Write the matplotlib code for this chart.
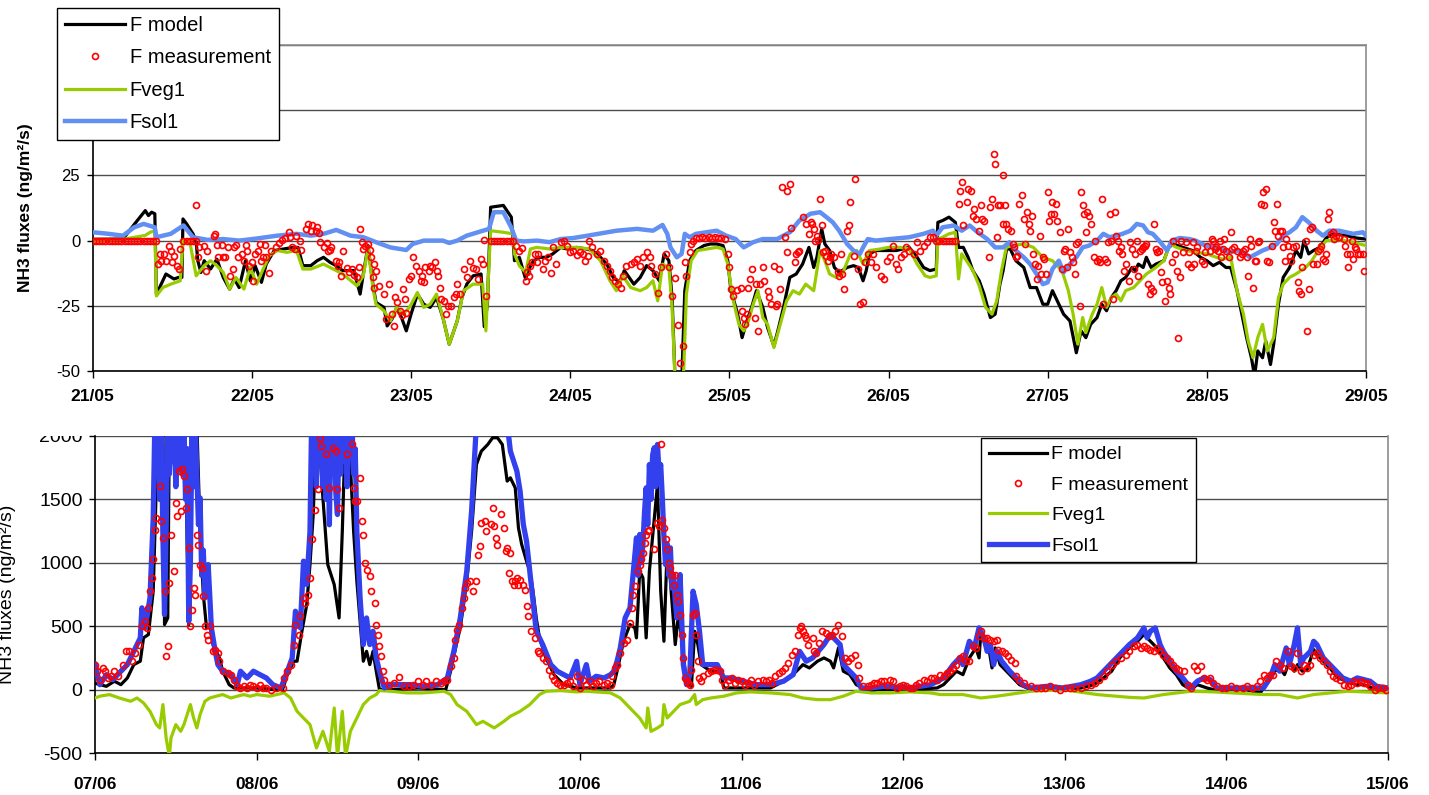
import matplotlib
matplotlib.use('Agg')
import matplotlib.pyplot as plt
from matplotlib.transforms import Bbox, TransformedBbox

plt.rcParams['font.family'] = ['Liberation Sans', 'DejaVu Sans']
plt.rcParams['axes.unicode_minus'] = False

#############################
# data (time in days) #######
#############################

top_days = ['21/05', '22/05', '23/05', '24/05', '25/05', '26/05', '27/05', '28/05', '29/05']
bot_days = ['07/06', '08/06', '09/06', '10/06', '11/06', '12/06', '13/06', '14/06', '15/06']
series_names = ['F model', 'F measurement', 'Fveg1', 'Fsol1']

# 21/05 - 29/05
top_model = [(0.00, 0.5), (0.19, 0.6), (0.23, 3.8), (0.28, 7.7), (0.33, 11.5), (0.35, 9.6), (0.37, 10.9),
             (0.39, 10.3), (0.40, -20.5), (0.42, -18.0), (0.46, -12.8), (0.51, -14.7), (0.54, -14.1),
             (0.56, -14.1), (0.567, 8.3), (0.59, 6.4), (0.63, 2.6), (0.65, -0.6), (0.66, -7.7), (0.68, -12.2),
             (0.70, -7.7), (0.74, -10.9), (0.78, -7.1), (0.82, -14.1), (0.86, -18.6), (0.89, -14.7),
             (0.92, -18.0), (0.96, -7.7), (0.99, -15.4), (1.02, -9.6), (1.06, -16.0), (1.09, -9.0),
             (1.14, -3.8), (1.20, -3.2), (1.26, -2.6), (1.29, -2.6), (1.32, -9.6), (1.37, -9.6), (1.41, -7.7),
             (1.45, -6.4), (1.49, -8.3), (1.53, -9.6), (1.57, -11.5), (1.64, -11.5), (1.68, -20.5),
             (1.70, -12.8), (1.73, -1.9), (1.76, -16.7), (1.78, -23.7), (1.83, -25.6), (1.85, -32.7),
             (1.88, -30.1), (1.91, -25.6), (1.94, -29.5), (1.97, -34.6), (2.00, -28.2), (2.04, -20.5),
             (2.08, -24.4), (2.12, -25.6), (2.16, -21.8), (2.20, -29.5), (2.24, -39.7), (2.29, -30.8),
             (2.32, -21.8), (2.35, -16.7), (2.39, -13.5), (2.44, -12.8), (2.46, -33.0), (2.48, -24.4),
             (2.50, 12.8), (2.58, 13.5), (2.63, 9.0), (2.65, -7.7), (2.68, -6.4), (2.72, -14.7), (2.74, -10.9),
             (2.77, -7.7), (2.81, -6.4), (2.85, -6.4), (2.89, -5.1), (2.94, -2.6), (2.98, -3.2), (3.04, -2.6),
             (3.10, -3.2), (3.14, -3.8), (3.19, -6.4), (3.23, -9.0), (3.27, -14.1), (3.31, -16.0),
             (3.34, -11.5), (3.40, -16.7), (3.44, -14.1), (3.48, -9.6), (3.52, -11.5), (3.56, -15.4),
             (3.59, -5.1), (3.62, -7.7), (3.64, -21.8), (3.66, -55.0), (3.70, -55.0), (3.72, -19.2),
             (3.75, -7.7), (3.79, -3.8), (3.84, -1.9), (3.88, -1.3), (3.92, -1.3), (3.96, -1.9), (3.99, -7.7),
             (4.01, -19.2), (4.05, -27.6), (4.08, -37.2), (4.11, -30.8), (4.14, -25.6), (4.17, -19.2),
             (4.21, -25.6), (4.24, -33.3), (4.28, -40.4), (4.31, -33.3), (4.34, -25.6), (4.38, -14.1),
             (4.42, -12.8), (4.46, -9.0), (4.50, -2.6), (4.53, -10.3), (4.55, -6.4), (4.58, 4.5), (4.60, -1.3),
             (4.63, -3.8), (4.66, -10.3), (4.69, -12.2), (4.74, -10.3), (4.78, -9.6), (4.81, -10.3),
             (4.84, -15.4), (4.86, -11.5), (4.88, -5.1), (4.92, -3.8), (4.99, -3.8), (5.05, -3.8),
             (5.09, -3.2), (5.13, -2.6), (5.18, -6.4), (5.22, -10.3), (5.26, -11.5), (5.30, -10.9),
             (5.31, 7.0), (5.34, 7.7), (5.38, 9.0), (5.42, 7.0), (5.44, -2.6), (5.47, -2.6), (5.50, -6.4),
             (5.53, -11.5), (5.57, -15.4), (5.60, -20.5), (5.64, -29.5), (5.67, -28.2), (5.70, -16.7),
             (5.72, -11.5), (5.74, -3.8), (5.76, -2.6), (5.80, -7.7), (5.85, -10.3), (5.89, -18.0),
             (5.93, -18.0), (5.97, -24.4), (6.00, -24.4), (6.03, -19.2), (6.07, -24.4), (6.10, -28.2),
             (6.14, -30.8), (6.18, -43.0), (6.21, -34.6), (6.24, -37.2), (6.27, -32.1), (6.31, -29.5),
             (6.34, -24.4), (6.37, -26.9), (6.40, -21.8), (6.43, -19.2), (6.46, -15.4), (6.49, -14.1),
             (6.53, -10.3), (6.55, -11.5), (6.57, -9.0), (6.60, -10.3), (6.62, -6.4), (6.65, -10.3),
             (6.68, -9.0), (6.73, -7.7), (6.76, -2.6), (6.79, -1.3), (6.85, -2.6), (6.91, -3.8), (6.96, -6.4),
             (7.00, -7.7), (7.04, -9.6), (7.08, -8.3), (7.12, -10.3), (7.15, -10.3), (7.19, -19.2),
             (7.22, -28.2), (7.25, -37.2), (7.28, -44.9), (7.30, -52.0), (7.32, -42.3), (7.35, -44.9),
             (7.37, -38.5), (7.40, -47.5), (7.42, -39.7), (7.45, -24.4), (7.48, -14.1), (7.52, -10.3),
             (7.56, -3.8), (7.59, -6.4), (7.61, 0.0), (7.64, -5.1), (7.67, -3.8), (7.71, -2.6), (7.75, 1.0),
             (7.79, 2.6), (7.88, 1.9), (7.94, 1.0), (8.00, 0.6)]

top_veg = [(0.00, 0.0), (0.19, 0.5), (0.33, 2.0), (0.36, 3.2), (0.39, 3.8), (0.40, -21.2), (0.44, -18.0),
           (0.49, -16.7), (0.55, -15.4), (0.567, 0.0), (0.61, -0.6), (0.65, -13.5), (0.70, -9.6),
           (0.74, -7.7), (0.78, -9.6), (0.82, -12.2), (0.86, -18.6), (0.90, -14.1), (0.95, -18.6),
           (0.99, -10.3), (1.03, -16.7), (1.07, -11.0), (1.11, -5.8), (1.16, -3.8), (1.22, -4.5),
           (1.28, -3.8), (1.32, -10.9), (1.37, -10.9), (1.45, -9.0), (1.53, -11.5), (1.57, -12.8),
           (1.66, -17.3), (1.70, -13.5), (1.73, -2.6), (1.76, -18.0), (1.78, -24.4), (1.83, -26.9),
           (1.87, -30.8), (1.91, -25.6), (1.95, -28.2), (1.99, -25.6), (2.04, -19.9), (2.08, -25.6),
           (2.12, -24.4), (2.16, -20.5), (2.20, -29.5), (2.24, -39.7), (2.29, -30.8), (2.33, -19.2),
           (2.39, -16.7), (2.45, -16.7), (2.47, -34.6), (2.50, 3.8), (2.58, 3.2), (2.64, 2.6), (2.65, -5.1),
           (2.68, -9.6), (2.72, -12.2), (2.75, -3.2), (2.79, -2.6), (2.87, -3.2), (2.94, -2.6), (3.04, -2.6),
           (3.12, -3.2), (3.19, -7.7), (3.25, -15.4), (3.29, -19.2), (3.33, -13.5), (3.38, -18.0),
           (3.44, -19.2), (3.48, -18.0), (3.52, -15.4), (3.55, -23.1), (3.58, -9.0), (3.62, -10.3),
           (3.64, -25.6), (3.66, -55.0), (3.71, -55.0), (3.73, -20.5), (3.76, -7.7), (3.80, -3.8),
           (3.86, -3.2), (3.92, -2.6), (3.96, -3.2), (3.99, -9.0), (4.02, -21.8), (4.06, -32.1),
           (4.09, -34.6), (4.12, -30.8), (4.15, -24.4), (4.18, -19.2), (4.21, -29.5), (4.24, -32.1),
           (4.28, -41.0), (4.32, -32.1), (4.36, -23.1), (4.40, -19.2), (4.44, -20.5), (4.48, -16.7),
           (4.53, -19.2), (4.57, -3.8), (4.60, -7.7), (4.63, -12.8), (4.67, -14.1), (4.71, -12.8),
           (4.76, -5.1), (4.80, -3.8), (4.84, -9.0), (4.88, -3.8), (4.95, -3.2), (5.00, -2.6), (5.07, -2.6),
           (5.13, -3.2), (5.18, -9.0), (5.23, -13.5), (5.26, -14.1), (5.30, -13.5), (5.31, 0.6), (5.34, 1.3),
           (5.38, 2.6), (5.42, 3.2), (5.44, -14.7), (5.46, -5.1), (5.49, -7.7), (5.53, -11.5), (5.57, -17.3),
           (5.61, -25.6), (5.65, -28.2), (5.68, -23.1), (5.71, -11.5), (5.74, -2.6), (5.78, -1.9),
           (5.85, -1.3), (5.91, -2.6), (5.97, -6.4), (6.03, -7.7), (6.09, -11.5), (6.13, -19.2),
           (6.16, -28.2), (6.19, -39.7), (6.22, -29.5), (6.24, -35.3), (6.28, -28.2), (6.31, -24.4),
           (6.34, -18.0), (6.37, -25.6), (6.40, -21.8), (6.43, -20.5), (6.46, -23.1), (6.49, -19.2),
           (6.54, -18.0), (6.58, -15.4), (6.62, -12.8), (6.68, -10.3), (6.73, -7.7), (6.77, -1.3),
           (6.81, -2.6), (6.87, -3.8), (6.93, -4.5), (7.00, -5.1), (7.06, -6.4), (7.10, -7.1), (7.15, -6.4),
           (7.19, -19.2), (7.23, -28.2), (7.26, -38.5), (7.29, -44.9), (7.32, -37.2), (7.35, -32.1),
           (7.38, -42.3), (7.42, -37.2), (7.45, -21.8), (7.48, -16.7), (7.52, -14.1), (7.56, -12.8),
           (7.62, -10.3), (7.66, -7.7), (7.70, -3.8), (7.75, 0.0), (7.83, 0.3), (7.90, -0.3), (7.96, -1.3),
           (8.00, -1.9)]

top_sol = [(0.00, 3.2), (0.10, 2.6), (0.19, 1.9), (0.26, 5.1), (0.32, 6.4), (0.39, 5.1), (0.40, 1.3),
           (0.49, 2.6), (0.57, 5.8), (0.63, 1.3), (0.72, 0.3), (0.82, 0.6), (0.92, 0.0), (1.03, 0.8),
           (1.16, 1.9), (1.28, 2.6), (1.37, 1.9), (1.45, 2.6), (1.53, 4.1), (1.62, 1.9), (1.70, 1.3),
           (1.78, -0.6), (1.87, -2.6), (1.97, -3.6), (2.01, -1.3), (2.08, 0.0), (2.20, 0.0), (2.24, -0.9),
           (2.29, 0.0), (2.35, 1.9), (2.42, 3.2), (2.49, 4.5), (2.52, 10.9), (2.58, 10.9), (2.63, 5.0),
           (2.66, 0.0), (2.71, -0.3), (2.79, 0.0), (2.87, -0.6), (2.94, 0.6), (3.02, 1.0), (3.11, 1.9),
           (3.29, 3.8), (3.42, 4.5), (3.52, 3.8), (3.58, 6.0), (3.61, 2.6), (3.63, -2.6), (3.67, -6.4),
           (3.70, -5.1), (3.72, 2.6), (3.75, 1.3), (3.79, 2.6), (3.92, 3.8), (3.98, 1.9), (4.04, 0.6),
           (4.09, -2.6), (4.15, -0.6), (4.21, 0.6), (4.30, 0.6), (4.38, 3.2), (4.44, 7.7), (4.51, 10.3),
           (4.57, 10.9), (4.61, 9.0), (4.65, 7.0), (4.69, 3.8), (4.74, -1.3), (4.78, -3.8), (4.82, -5.1),
           (4.84, -2.6), (4.87, 0.6), (4.92, 0.0), (5.01, 0.6), (5.13, 1.3), (5.22, 2.6), (5.28, 3.8),
           (5.30, 1.9), (5.34, 5.1), (5.41, 5.8), (5.46, 3.8), (5.51, 5.8), (5.56, 3.2), (5.62, 0.6),
           (5.67, -2.6), (5.72, -2.6), (5.76, -0.6), (5.80, -3.8), (5.85, -6.4), (5.89, -9.0), (5.93, -12.8),
           (5.97, -16.7), (6.00, -16.0), (6.03, -10.9), (6.07, -7.7), (6.10, -12.2), (6.14, -9.0),
           (6.18, -6.4), (6.22, -2.6), (6.26, -1.9), (6.31, 0.0), (6.35, 2.6), (6.39, 1.3), (6.43, 1.9),
           (6.47, 2.6), (6.52, 3.8), (6.56, 6.4), (6.60, 5.8), (6.63, 3.2), (6.66, 2.6), (6.70, 0.0),
           (6.75, -3.8), (6.78, 0.0), (6.83, 1.0), (6.89, 0.6), (6.93, 0.0), (6.99, -1.9), (7.06, -2.6),
           (7.10, -3.2), (7.14, -4.5), (7.19, -3.8), (7.23, -4.5), (7.27, -6.4), (7.31, -5.1), (7.35, -3.8),
           (7.40, -2.6), (7.44, -1.3), (7.48, 1.9), (7.52, 3.2), (7.56, 5.1), (7.60, 9.0), (7.64, 7.0),
           (7.69, 3.8), (7.73, 1.9), (7.77, 3.8), (7.83, 3.8), (7.92, 2.6), (7.98, 3.2), (8.00, 1.9)]

top_meas = [(0.00, 0), (0.02, 0), (0.04, 0), (0.06, 0), (0.08, 0), (0.10, 0), (0.12, 0), (0.14, 0), (0.16, 0),
            (0.18, 0), (0.20, 0), (0.22, 0), (0.24, 0), (0.26, 0), (0.28, 0), (0.30, 0), (0.32, 0), (0.34, 0),
            (0.36, 0), (0.38, 0), (0.40, 0), (0.41, -9.0), (0.42, -5.1), (0.43, -7.7), (0.45, -5.1),
            (0.46, -7.7), (0.48, -1.9), (0.49, -3.8), (0.50, -8.3), (0.51, -5.8), (0.53, -9.6), (0.54, -10.9),
            (0.55, -3.2), (0.57, 0), (0.59, 0), (0.61, 0), (0.63, 0), (0.65, 0), (0.65, 13.8), (0.66, -6.4),
            (0.67, -2.6), (0.70, -1.9), (0.71, -11.8), (0.72, -3.8), (0.76, 1.9), (0.77, 2.6), (0.78, -1.6),
            (0.79, -6.2), (0.81, -1.6), (0.82, -6.2), (0.83, -6.4), (0.85, -2.6), (0.86, -13.5), (0.88, -10.9),
            (0.89, -2.6), (0.90, -1.6), (0.91, -6.2), (0.94, -5.1), (0.95, -7.7), (0.96, -1.6), (0.97, -3.8),
            (0.98, -9.6), (1.00, -8.3), (1.01, -15.4), (1.02, -5.1), (1.04, -3.8), (1.05, -1.3), (1.06, -7.7),
            (1.07, -6.2), (1.08, -1.6), (1.09, -6.4), (1.11, -12.6), (1.12, -3.8), (1.15, -2.6), (1.17, -1.0),
            (1.19, 0.2), (1.21, 1.0), (1.23, 3.2), (1.24, 1.5), (1.25, -2.6), (1.27, -3.2), (1.28, 1.9),
            (1.30, 0.0), (1.31, -3.6), (1.34, 4.5), (1.35, 6.4), (1.37, 3.8), (1.38, 5.8), (1.40, 3.8),
            (1.41, 5.1), (1.42, 2.8), (1.43, -0.6), (1.45, -2.6), (1.47, -1.0), (1.48, -4.1), (1.49, -3.6),
            (1.50, -2.6), (1.53, -7.7), (1.54, -9.6), (1.55, -8.3), (1.56, -13.5), (1.57, -3.8), (1.60, -10.5),
            (1.61, -12.2), (1.63, -10.9), (1.64, -13.1), (1.66, -14.1), (1.67, -10.3), (1.68, 4.5),
            (1.69, -0.6), (1.70, -3.2), (1.71, -1.9), (1.73, -1.3), (1.74, -3.6), (1.75, -6.4), (1.76, -14.1),
            (1.77, -9.0), (1.77, -18.0), (1.78, -11.5), (1.80, -17.3), (1.83, -20.5), (1.84, -30.1),
            (1.86, -16.7), (1.88, -28.2), (1.89, -32.7), (1.90, -21.8), (1.91, -23.7), (1.93, -26.9),
            (1.94, -28.5), (1.95, -18.6), (1.96, -22.4), (1.97, -27.6), (1.99, -14.7), (2.00, -13.5),
            (2.01, -6.4), (2.03, -9.6), (2.05, -11.5), (2.06, -15.4), (2.07, -13.5), (2.08, -16.0),
            (2.09, -10.3), (2.11, -11.5), (2.12, -9.6), (2.13, -10.3), (2.15, -8.3), (2.16, -11.5),
            (2.17, -13.5), (2.18, -18.0), (2.19, -22.4), (2.21, -23.1), (2.22, -28.2), (2.23, -25.0),
            (2.25, -25.0), (2.27, -21.8), (2.28, -20.5), (2.29, -16.7), (2.31, -20.5), (2.33, -10.9),
            (2.35, -14.1), (2.37, -7.7), (2.39, -10.5), (2.41, -10.9), (2.42, -14.7), (2.44, -7.1),
            (2.45, -9.0), (2.46, 0.2), (2.47, -21.2), (2.50, 0), (2.52, 0), (2.54, 0), (2.56, 0), (2.58, 0),
            (2.60, 0), (2.62, 0), (2.64, 0), (2.66, -1.9), (2.68, -3.8), (2.70, -2.8), (2.72, -15.4),
            (2.73, -12.2), (2.74, -13.5), (2.75, -9.6), (2.76, -8.3), (2.78, -5.1), (2.79, -8.3), (2.80, -5.1),
            (2.83, -10.9), (2.84, -7.7), (2.86, -6.4), (2.88, -12.6), (2.89, -2.6), (2.91, -9.0), (2.94, -0.6),
            (2.96, 0.0), (2.98, -1.9), (3.00, -4.5), (3.02, -3.8), (3.04, -5.4), (3.06, -4.5), (3.08, -5.1),
            (3.09, -7.7), (3.11, -5.8), (3.12, 0.0), (3.14, -2.6), (3.17, -5.1), (3.19, -3.8), (3.21, -7.7),
            (3.23, -9.6), (3.25, -11.5), (3.26, -14.1), (3.28, -15.4), (3.30, -16.7), (3.32, -18.0),
            (3.33, -13.5), (3.35, -9.6), (3.38, -9.0), (3.40, -8.3), (3.42, -7.1), (3.44, -9.6), (3.46, -6.4),
            (3.48, -4.5), (3.50, -6.4), (3.51, -9.6), (3.53, -12.8), (3.55, -19.9), (3.57, -10.3),
            (3.60, -5.1), (3.62, -10.3), (3.64, -21.2), (3.66, -14.4), (3.68, -32.3), (3.69, -46.8),
            (3.71, -40.4), (3.72, -8.3), (3.73, -13.5), (3.75, -4.5), (3.76, -1.3), (3.77, 0.0), (3.79, 1.0),
            (3.81, 1.0), (3.83, 1.2), (3.85, 1.0), (3.87, 1.2), (3.89, 1.0), (3.91, 1.2), (3.93, 1.0),
            (3.95, 1.0), (3.97, 0.6), (3.99, -5.1), (4.00, -10.0), (4.01, -18.6), (4.02, -21.2), (4.05, -19.0),
            (4.07, -18.0), (4.08, -26.9), (4.09, -29.5), (4.10, -32.1), (4.11, -28.2), (4.12, -18.0),
            (4.13, -14.7), (4.14, -10.9), (4.16, -29.5), (4.17, -16.7), (4.18, -34.6), (4.19, -16.7),
            (4.21, -10.3), (4.22, -15.4), (4.24, -19.2), (4.25, -21.8), (4.26, -24.4), (4.28, -9.6),
            (4.29, -25.0), (4.30, -24.4), (4.31, -10.9), (4.32, -18.6), (4.33, 20.5), (4.35, 1.3),
            (4.36, 19.2), (4.36, -4.5), (4.38, 21.8), (4.39, 4.7), (4.41, -8.3), (4.42, -5.1), (4.43, -4.5),
            (4.44, -3.8), (4.46, 9.0), (4.48, 6.4), (4.50, 2.6), (4.51, 7.0), (4.52, 6.4), (4.53, 4.5),
            (4.54, 0.0), (4.55, 1.9), (4.56, 0.2), (4.57, 16.0), (4.58, 5.8), (4.59, -4.5), (4.60, -3.8),
            (4.61, -5.8), (4.62, -7.7), (4.63, -6.4), (4.64, -5.1), (4.66, -6.4), (4.68, -12.2), (4.69, -13.5),
            (4.70, -5.1), (4.71, -12.8), (4.72, -18.6), (4.74, 3.8), (4.75, 5.8), (4.76, 14.7), (4.78, -5.8),
            (4.79, 23.7), (4.81, -10.9), (4.82, -24.4), (4.84, -23.7), (4.85, -8.3), (4.87, -5.1),
            (4.89, -8.3), (4.90, -5.1), (4.92, -10.3), (4.95, -13.5), (4.97, -14.7), (4.99, -7.7),
            (5.01, -6.4), (5.03, -1.9), (5.05, -9.0), (5.06, -10.9), (5.08, -6.4), (5.10, -5.1), (5.11, -2.6),
            (5.13, -3.8), (5.16, -5.1), (5.18, -0.6), (5.20, -3.8), (5.22, -1.9), (5.24, -0.6), (5.26, 1.5),
            (5.28, 1.5), (5.30, 0), (5.32, 0), (5.34, 0), (5.36, 0), (5.38, 0), (5.40, 0), (5.42, 0),
            (5.44, 14.1), (5.45, 19.2), (5.46, 22.4), (5.47, 5.8), (5.49, 14.7), (5.50, 19.9), (5.52, 19.2),
            (5.53, 9.6), (5.54, 12.2), (5.55, 8.3), (5.57, 3.8), (5.58, 13.5), (5.59, 8.3), (5.60, 7.7),
            (5.63, -6.4), (5.64, 12.8), (5.65, 16.0), (5.66, 33.3), (5.67, 29.2), (5.68, 1.3), (5.69, 13.5),
            (5.70, 13.5), (5.72, 25.0), (5.72, 6.4), (5.73, 13.8), (5.74, 6.4), (5.75, 4.5), (5.77, 3.8),
            (5.78, -1.3), (5.79, -2.6), (5.80, -6.4), (5.81, -5.8), (5.82, 14.1), (5.84, 17.3), (5.85, 8.3),
            (5.86, -1.3), (5.87, 10.9), (5.88, 6.4), (5.89, 3.8), (5.90, 9.6), (5.91, -5.1), (5.92, -9.0),
            (5.93, -14.7), (5.94, -9.6), (5.95, 1.9), (5.96, -12.8), (5.97, -6.4), (5.98, -7.1), (5.99, -12.8),
            (6.00, 18.6), (6.01, 7.7), (6.02, 10.3), (6.03, 14.7), (6.04, 10.3), (6.05, 14.1), (6.06, 7.7),
            (6.08, 3.2), (6.09, -10.9), (6.10, -3.8), (6.11, -3.2), (6.12, -10.3), (6.13, 4.5), (6.14, -4.5),
            (6.15, -6.4), (6.16, -8.3), (6.17, -12.8), (6.18, -1.3), (6.19, -0.6), (6.20, -25.0), (6.21, 18.6),
            (6.22, 13.5), (6.23, 10.3), (6.24, 3.2), (6.25, 10.9), (6.26, 9.6), (6.27, 6.4), (6.29, -6.4),
            (6.30, 0.0), (6.31, -7.7), (6.32, -7.1), (6.33, -8.3), (6.34, 16.0), (6.35, -24.4), (6.36, -7.1),
            (6.37, -8.3), (6.38, -0.6), (6.39, 10.3), (6.40, 0.0), (6.41, -22.4), (6.42, 10.9), (6.43, 1.9),
            (6.44, 0.0), (6.45, -3.8), (6.46, -2.6), (6.47, -5.1), (6.48, -11.5), (6.49, -9.0), (6.51, -15.4),
            (6.52, -0.6), (6.53, -3.2), (6.54, -10.9), (6.55, -5.1), (6.56, 0.0), (6.57, -13.5), (6.58, -3.8),
            (6.59, -3.2), (6.60, -2.6), (6.61, -1.9), (6.62, -1.3), (6.63, -16.7), (6.64, -20.5), (6.65, -18.0),
            (6.66, -19.2), (6.67, 6.4), (6.68, -3.2), (6.69, -4.5), (6.70, -3.8), (6.71, -12.2), (6.72, -16.0),
            (6.74, -23.1), (6.75, -15.4), (6.76, -18.0), (6.77, -20.5), (6.78, -8.3), (6.79, 0.0), (6.80, -5.1),
            (6.81, -11.5), (6.82, -37.2), (6.83, -14.1), (6.84, 0.0), (6.85, -4.5), (6.87, -0.6), (6.88, -9.0),
            (6.89, -4.5), (6.90, -10.3), (6.91, -0.6), (6.92, -9.0), (6.93, -3.8), (6.94, -2.6), (6.97, -7.7),
            (6.98, -9.0), (6.99, -4.5), (7.00, -1.9), (7.02, -3.8), (7.03, 0.6), (7.04, 0.0), (7.05, -3.2),
            (7.06, -2.6), (7.07, -3.8), (7.08, 0.0), (7.09, -6.4), (7.10, -3.2), (7.11, 0.6), (7.12, -3.8),
            (7.14, -6.4), (7.15, 3.2), (7.16, -3.2), (7.17, -2.6), (7.19, -3.8), (7.21, -6.4), (7.22, -5.1),
            (7.23, -3.8), (7.24, -3.2), (7.25, -6.4), (7.26, -13.5), (7.27, 0.6), (7.28, -1.9), (7.29, -18.0),
            (7.30, -7.7), (7.31, -7.7), (7.32, -0.6), (7.33, 0.0), (7.34, 14.1), (7.35, 18.6), (7.36, 13.5),
            (7.37, 19.9), (7.38, -7.7), (7.39, -8.3), (7.41, -1.9), (7.42, 7.0), (7.43, 3.8), (7.44, 14.1),
            (7.45, 1.9), (7.46, 3.8), (7.47, 3.8), (7.48, -2.6), (7.49, -7.7), (7.50, 0.6), (7.51, -1.9),
            (7.52, -5.8), (7.53, -7.7), (7.54, -2.6), (7.56, -1.9), (7.57, -16.0), (7.58, -19.2), (7.59, -20.5),
            (7.60, -10.3), (7.62, 0.0), (7.63, -34.6), (7.64, -18.6), (7.65, 4.5), (7.66, 5.1), (7.67, -9.0),
            (7.69, -9.0), (7.70, -3.8), (7.71, -3.2), (7.72, -1.9), (7.73, -7.1), (7.74, -7.7), (7.75, -5.1),
            (7.76, 8.3), (7.77, 10.9), (7.78, 2.6), (7.79, 3.2), (7.80, 0.6), (7.81, 1.9), (7.83, 1.3),
            (7.86, 0.6), (7.87, -1.9), (7.88, -5.1), (7.89, -10.3), (7.90, -5.1), (7.91, 0.0), (7.92, -7.1),
            (7.93, -2.6), (7.94, -3.2), (7.95, -5.1), (7.96, -5.1), (7.98, -5.1), (7.99, -11.5)]

# 07/06 - 15/06
bot_model = [(0.00, 50), (0.07, 26), (0.12, 66), (0.16, 39), (0.20, 92), (0.24, 197), (0.28, 224), (0.30, 408),
             (0.33, 434), (0.36, 776), (0.38, 1644), (0.40, 2100), (0.42, 2100), (0.43, 513), (0.45, 565),
             (0.46, 2100), (0.49, 1775), (0.51, 1696), (0.53, 1933), (0.55, 2100), (0.56, 1828), (0.58, 513),
             (0.60, 1775), (0.63, 2100), (0.65, 1249), (0.67, 750), (0.69, 487), (0.71, 513), (0.73, 355),
             (0.77, 250), (0.79, 145), (0.83, 39), (0.86, 13), (1.00, 13), (1.12, 0), (1.16, 0), (1.19, 118),
             (1.23, 224), (1.25, 224), (1.28, 460), (1.31, 671), (1.33, 986), (1.35, 1381), (1.37, 2100),
             (1.39, 1907), (1.41, 1512), (1.44, 986), (1.48, 828), (1.51, 565), (1.53, 1249), (1.55, 2100),
             (1.58, 1775), (1.60, 1249), (1.62, 855), (1.64, 539), (1.66, 224), (1.68, 302), (1.70, 197),
             (1.72, 302), (1.74, 145), (1.76, 0), (1.83, 0), (2.00, 13), (2.17, 0), (2.20, 145), (2.24, 381),
             (2.26, 487), (2.30, 855), (2.33, 1249), (2.36, 1775), (2.39, 1880), (2.43, 1933), (2.46, 1986),
             (2.49, 1986), (2.52, 1933), (2.55, 1644), (2.57, 1670), (2.60, 1591), (2.62, 1275), (2.64, 1144),
             (2.67, 1013), (2.69, 934), (2.71, 776), (2.73, 565), (2.75, 408), (2.79, 250), (2.84, 118),
             (2.90, 39), (2.98, 13), (3.08, 13), (3.19, 13), (3.21, 39), (3.23, 145), (3.27, 381), (3.31, 513),
             (3.34, 487), (3.35, 408), (3.37, 934), (3.39, 881), (3.41, 408), (3.43, 934), (3.48, 1617),
             (3.50, 776), (3.52, 381), (3.54, 1118), (3.56, 855), (3.59, 355), (3.61, 592), (3.63, 408),
             (3.66, 39), (3.69, 26), (3.71, 460), (3.73, 355), (3.75, 197), (3.81, 145), (3.87, 145), (3.89, 13),
             (4.01, 13), (4.18, 13), (4.26, 66), (4.34, 145), (4.38, 197), (4.42, 171), (4.47, 224), (4.51, 250),
             (4.55, 224), (4.57, 171), (4.60, 329), (4.63, 145), (4.67, 118), (4.71, 39), (4.75, 13), (4.80, -13),
             (4.84, 0), (5.04, 0), (5.21, 13), (5.25, 39), (5.29, 92), (5.33, 145), (5.37, 118), (5.41, 250),
             (5.45, 329), (5.47, 250), (5.48, 434), (5.50, 381), (5.53, 329), (5.55, 171), (5.57, 329),
             (5.60, 197), (5.64, 145), (5.68, 92), (5.72, 39), (5.79, 0), (5.99, 0), (6.10, 13), (6.18, 39),
             (6.24, 92), (6.29, 145), (6.34, 250), (6.40, 329), (6.45, 381), (6.49, 434), (6.53, 381),
             (6.57, 329), (6.61, 250), (6.65, 171), (6.69, 118), (6.73, 39), (6.78, 0), (6.82, 39), (6.88, 13),
             (6.92, 0), (7.12, 0), (7.21, -26), (7.23, 13), (7.27, 79), (7.30, 145), (7.33, 171), (7.36, 118),
             (7.39, 224), (7.42, 145), (7.44, 197), (7.47, 145), (7.50, 158), (7.54, 316), (7.57, 263),
             (7.60, 224), (7.64, 171), (7.69, 92), (7.75, 66), (7.80, 39), (7.85, 39), (7.90, 13), (8.00, 13)]

bot_veg = [(0.00, -66), (0.03, -52), (0.09, -39), (0.15, -66), (0.22, -92), (0.26, -66), (0.30, -105),
           (0.34, -171), (0.38, -276), (0.40, -302), (0.42, -118), (0.44, -381), (0.46, -530), (0.47, -381),
           (0.50, -276), (0.53, -329), (0.55, -276), (0.59, -118), (0.61, -224), (0.63, -302), (0.65, -197),
           (0.68, -92), (0.71, -66), (0.75, -52), (0.79, -39), (0.84, -66), (0.88, -52), (0.92, -39),
           (0.96, -52), (1.00, -39), (1.08, -52), (1.17, -26), (1.21, -66), (1.25, -171), (1.29, -224),
           (1.33, -276), (1.37, -460), (1.41, -329), (1.45, -487), (1.48, -145), (1.50, -530), (1.53, -171),
           (1.55, -530), (1.58, -329), (1.62, -224), (1.66, -118), (1.70, -66), (1.74, -39), (1.76, -8),
           (1.83, -13), (1.93, -26), (2.03, -26), (2.16, -13), (2.20, -39), (2.24, -118), (2.30, -171),
           (2.36, -276), (2.40, -250), (2.47, -302), (2.53, -250), (2.57, -210), (2.63, -171), (2.69, -118),
           (2.75, -39), (2.79, -13), (2.88, -8), (2.98, -18), (3.04, -13), (3.19, -26), (3.25, -66),
           (3.31, -145), (3.37, -224), (3.41, -302), (3.42, -145), (3.44, -329), (3.48, -302), (3.51, -276),
           (3.52, -118), (3.54, -224), (3.58, -171), (3.62, -118), (3.68, -92), (3.71, -39), (3.72, -118),
           (3.76, -79), (3.81, -66), (3.89, -52), (3.97, -26), (4.05, -18), (4.18, -26), (4.30, -39),
           (4.38, -66), (4.47, -79), (4.55, -79), (4.63, -52), (4.71, -13), (4.80, -26), (4.92, -26),
           (5.04, -18), (5.17, -26), (5.23, -39), (5.31, -39), (5.37, -39), (5.48, -66), (5.58, -52),
           (5.79, -13), (5.99, 0), (6.20, -39), (6.40, -61), (6.49, -66), (6.61, -39), (6.78, -13),
           (6.92, -18), (7.23, -39), (7.33, -39), (7.44, -66), (7.54, -39), (7.75, -13), (8.00, -26)]

bot_sol = [(0.00, 197), (0.01, 145), (0.03, 39), (0.07, 118), (0.11, 79), (0.16, 145), (0.20, 197),
           (0.24, 302), (0.28, 408), (0.29, 645), (0.31, 487), (0.34, 723), (0.36, 1354), (0.37, 2100),
           (0.38, 1700), (0.39, 2100), (0.40, 1500), (0.41, 2100), (0.42, 1200), (0.43, 592), (0.44, 1249),
           (0.45, 2100), (0.46, 1700), (0.47, 2100), (0.48, 1800), (0.49, 2100), (0.50, 1600), (0.51, 2100),
           (0.52, 1750), (0.53, 2100), (0.54, 1700), (0.55, 2100), (0.56, 1500), (0.57, 1900), (0.58, 539),
           (0.59, 1000), (0.60, 2100), (0.61, 1600), (0.62, 2100), (0.63, 1700), (0.64, 1300), (0.65, 1512),
           (0.66, 900), (0.67, 1100), (0.68, 723), (0.70, 986), (0.72, 487), (0.74, 329), (0.76, 197),
           (0.79, 145), (0.84, 118), (0.88, 39), (0.90, 145), (0.94, 92), (0.98, 145), (1.02, 118), (1.06, 92),
           (1.10, 39), (1.15, 13), (1.19, 145), (1.22, 250), (1.24, 618), (1.27, 487), (1.29, 1013),
           (1.31, 828), (1.33, 1249), (1.34, 2100), (1.35, 1700), (1.36, 2100), (1.37, 1600), (1.38, 2100),
           (1.39, 1900), (1.40, 2100), (1.41, 1600), (1.42, 2100), (1.43, 1500), (1.44, 2100), (1.45, 1300),
           (1.46, 2100), (1.47, 1700), (1.48, 2100), (1.49, 1550), (1.50, 1381), (1.51, 2100), (1.52, 1700),
           (1.53, 2100), (1.54, 1800), (1.55, 2100), (1.56, 1600), (1.57, 2100), (1.58, 1900), (1.59, 2100),
           (1.60, 1700), (1.61, 1900), (1.62, 1249), (1.64, 723), (1.66, 355), (1.68, 565), (1.70, 355),
           (1.72, 460), (1.74, 250), (1.76, 145), (1.79, 13), (1.83, 39), (1.95, 39), (2.03, 26), (2.12, 39),
           (2.18, 92), (2.22, 302), (2.26, 565), (2.30, 934), (2.33, 1407), (2.36, 2100), (2.55, 2100),
           (2.57, 1880), (2.61, 1723), (2.63, 1565), (2.65, 1302), (2.67, 1170), (2.69, 934), (2.73, 460),
           (2.77, 355), (2.82, 197), (2.86, 145), (2.90, 118), (2.94, 92), (2.98, 223), (3.00, 39), (3.04, 197),
           (3.06, 66), (3.10, 105), (3.15, 92), (3.19, 118), (3.21, 145), (3.23, 224), (3.25, 329), (3.28, 565),
           (3.31, 645), (3.35, 1197), (3.36, 900), (3.37, 1223), (3.38, 1000), (3.39, 1144), (3.40, 1400),
           (3.41, 1591), (3.42, 1300), (3.43, 1775), (3.44, 1500), (3.45, 1850), (3.46, 1907), (3.47, 1600),
           (3.48, 1933), (3.49, 1700), (3.50, 1775), (3.51, 1512), (3.52, 1200), (3.53, 986), (3.54, 1150),
           (3.55, 900), (3.56, 1118), (3.57, 800), (3.58, 907), (3.59, 700), (3.60, 565), (3.61, 750),
           (3.62, 907), (3.64, 197), (3.66, 39), (3.68, 118), (3.70, 776), (3.72, 671), (3.74, 460),
           (3.76, 197), (3.80, 197), (3.85, 197), (3.89, 92), (3.93, 92), (4.01, 66), (4.09, 39), (4.18, 39),
           (4.26, 66), (4.32, 118), (4.36, 302), (4.40, 224), (4.44, 250), (4.51, 355), (4.55, 434),
           (4.59, 381), (4.61, 355), (4.63, 197), (4.67, 145), (4.71, 92), (4.74, 13), (4.80, 13), (4.88, 26),
           (5.04, 13), (5.17, 39), (5.25, 92), (5.31, 197), (5.35, 250), (5.37, 197), (5.41, 381), (5.44, 329),
           (5.47, 487), (5.50, 408), (5.52, 302), (5.54, 355), (5.56, 197), (5.58, 302), (5.61, 224),
           (5.66, 145), (5.70, 92), (5.74, 39), (5.79, 13), (5.89, 26), (5.99, 13), (6.10, 39), (6.16, 66),
           (6.20, 92), (6.24, 145), (6.28, 197), (6.32, 250), (6.36, 302), (6.40, 355), (6.45, 408),
           (6.49, 487), (6.51, 408), (6.53, 460), (6.56, 487), (6.59, 355), (6.61, 302), (6.65, 224),
           (6.69, 145), (6.73, 92), (6.78, 13), (6.82, 66), (6.86, 92), (6.90, 79), (6.94, 13), (7.23, 13),
           (7.27, 92), (7.30, 197), (7.33, 145), (7.37, 329), (7.39, 197), (7.42, 355), (7.44, 487),
           (7.46, 197), (7.48, 250), (7.52, 302), (7.54, 381), (7.56, 355), (7.60, 250), (7.64, 197),
           (7.68, 145), (7.72, 92), (7.77, 66), (7.81, 92), (7.85, 79), (7.89, 66), (7.93, 26), (8.00, 13)]

bot_meas = [(0.00, 197), (0.01, 145), (0.03, 79), (0.05, 171), (0.06, 145), (0.08, 92), (0.10, 105),
            (0.12, 145), (0.14, 105), (0.17, 197), (0.19, 302), (0.21, 302), (0.23, 224), (0.25, 289),
            (0.27, 355), (0.29, 500), (0.31, 539), (0.32, 487), (0.33, 645), (0.34, 776), (0.35, 881),
            (0.36, 1026), (0.37, 1262), (0.38, 1354), (0.40, 1604), (0.41, 1328), (0.42, 1197), (0.43, 776),
            (0.44, 263), (0.45, 342), (0.46, 842), (0.47, 1223), (0.49, 934), (0.50, 1473), (0.51, 1368),
            (0.52, 1723), (0.53, 1407), (0.54, 1736), (0.55, 1683), (0.56, 1433), (0.57, 1578), (0.58, 1118),
            (0.59, 500), (0.60, 631), (0.61, 802), (0.62, 750), (0.63, 1223), (0.64, 1144), (0.65, 986),
            (0.66, 960), (0.67, 736), (0.68, 500), (0.69, 434), (0.70, 395), (0.71, 500), (0.73, 302),
            (0.74, 316), (0.76, 289), (0.77, 224), (0.79, 145), (0.82, 132), (0.84, 118), (0.86, 79), (0.88, 26),
            (0.90, 13), (0.92, 26), (0.94, 13), (0.96, 39), (0.98, 26), (1.00, 13), (1.02, 39), (1.04, 13),
            (1.06, 13), (1.09, 0), (1.12, 13), (1.16, 13), (1.17, 92), (1.19, 145), (1.21, 197), (1.23, 355),
            (1.24, 513), (1.26, 434), (1.27, 579), (1.29, 723), (1.30, 684), (1.32, 750), (1.33, 881),
            (1.34, 1184), (1.36, 1420), (1.38, 1578), (1.39, 1986), (1.40, 1920), (1.43, 1854), (1.45, 1591),
            (1.47, 1907), (1.49, 1880), (1.50, 1578), (1.51, 1433), (1.56, 1854), (1.59, 1933), (1.60, 1591),
            (1.61, 1486), (1.62, 1486), (1.64, 1670), (1.65, 1328), (1.66, 1223), (1.67, 999), (1.68, 947),
            (1.70, 894), (1.71, 776), (1.73, 684), (1.74, 513), (1.75, 434), (1.76, 342), (1.77, 263),
            (1.78, 145), (1.79, 79), (1.82, 39), (1.85, 53), (1.88, 100), (1.91, 26), (1.94, 26), (1.97, 39),
            (2.00, 66), (2.03, 39), (2.05, 66), (2.08, 39), (2.11, 66), (2.14, 53), (2.16, 66), (2.18, 79),
            (2.20, 184), (2.22, 250), (2.23, 395), (2.24, 473), (2.25, 513), (2.27, 645), (2.28, 723),
            (2.29, 802), (2.30, 842), (2.32, 855), (2.34, 776), (2.36, 855), (2.37, 1065), (2.38, 1131),
            (2.39, 1315), (2.41, 1328), (2.42, 1249), (2.45, 1302), (2.46, 1433), (2.47, 1289), (2.48, 1197),
            (2.49, 1144), (2.51, 1381), (2.53, 1276), (2.54, 1091), (2.55, 1118), (2.56, 920), (2.58, 855),
            (2.59, 828), (2.61, 881), (2.57, 1078), (2.60, 855), (2.62, 828), (2.63, 868), (2.65, 828),
            (2.66, 789), (2.67, 658), (2.68, 579), (2.70, 460), (2.72, 408), (2.74, 302), (2.75, 289),
            (2.77, 250), (2.79, 224), (2.81, 158), (2.83, 105), (2.84, 79), (2.86, 53), (2.88, 39), (2.90, 39),
            (2.92, 53), (2.94, 71), (2.96, 26), (2.98, 105), (3.00, 13), (3.02, 79), (3.04, 39), (3.06, 66),
            (3.08, 26), (3.10, 53), (3.12, 71), (3.15, 39), (3.17, 53), (3.19, 39), (3.20, 105), (3.22, 171),
            (3.23, 197), (3.25, 289), (3.27, 368), (3.29, 395), (3.31, 526), (3.32, 645), (3.33, 750),
            (3.34, 815), (3.36, 934), (3.37, 986), (3.38, 1026), (3.39, 1078), (3.40, 1157), (3.41, 1223),
            (3.42, 1249), (3.43, 1262), (3.46, 1105), (3.48, 1315), (3.49, 1289), (3.50, 1933), (3.51, 1341),
            (3.52, 1276), (3.53, 1184), (3.54, 1105), (3.55, 999), (3.56, 960), (3.57, 907), (3.58, 828),
            (3.59, 907), (3.60, 750), (3.61, 697), (3.62, 592), (3.63, 434), (3.64, 250), (3.65, 92), (3.66, 66),
            (3.67, 53), (3.68, 39), (3.69, 158), (3.70, 592), (3.71, 605), (3.72, 434), (3.73, 224), (3.74, 92),
            (3.75, 66), (3.76, 105), (3.79, 132), (3.81, 145), (3.83, 158), (3.85, 158), (3.87, 145), (3.88, 79),
            (3.90, 39), (3.92, 79), (3.94, 92), (3.96, 53), (3.98, 79), (4.00, 66), (4.02, 39), (4.04, 53),
            (4.06, 79), (4.08, 39), (4.10, 66), (4.13, 79), (4.15, 66), (4.17, 79), (4.19, 53), (4.21, 105),
            (4.23, 132), (4.25, 145), (4.27, 171), (4.29, 210), (4.31, 276), (4.33, 302), (4.35, 434),
            (4.36, 487), (4.37, 500), (4.38, 460), (4.39, 434), (4.40, 408), (4.41, 355), (4.44, 408),
            (4.45, 302), (4.46, 289), (4.48, 368), (4.50, 460), (4.52, 447), (4.54, 421), (4.56, 434),
            (4.58, 460), (4.60, 513), (4.62, 421), (4.64, 250), (4.66, 224), (4.68, 250), (4.70, 276),
            (4.72, 197), (4.73, 92), (4.75, 26), (4.78, 26), (4.80, 39), (4.82, 53), (4.84, 53), (4.86, 66),
            (4.88, 71), (4.90, 39), (4.92, 79), (4.94, 66), (4.96, 13), (4.98, 26), (5.00, 39), (5.02, 26),
            (5.04, 13), (5.06, 13), (5.08, 39), (5.10, 53), (5.13, 79), (5.15, 66), (5.17, 92), (5.19, 92),
            (5.21, 79), (5.23, 118), (5.25, 105), (5.27, 132), (5.29, 145), (5.31, 171), (5.33, 197),
            (5.35, 250), (5.37, 263), (5.39, 224), (5.41, 224), (5.43, 342), (5.45, 329), (5.47, 421),
            (5.48, 460), (5.50, 408), (5.52, 408), (5.54, 395), (5.56, 381), (5.58, 395), (5.59, 316),
            (5.61, 302), (5.63, 289), (5.65, 263), (5.67, 237), (5.69, 210), (5.70, 105), (5.72, 79), (5.75, 53),
            (5.79, 26), (5.82, 13), (5.85, 13), (5.88, 13), (5.91, 26), (5.94, 13), (5.97, 0), (6.00, 13),
            (6.03, 13), (6.06, 13), (6.10, 13), (6.13, 26), (6.16, 39), (6.19, 53), (6.21, 79), (6.24, 105),
            (6.26, 145), (6.29, 197), (6.32, 224), (6.35, 250), (6.38, 276), (6.40, 302), (6.43, 342),
            (6.45, 355), (6.47, 329), (6.49, 342), (6.51, 329), (6.53, 316), (6.55, 302), (6.57, 329),
            (6.59, 302), (6.61, 276), (6.63, 250), (6.65, 224), (6.67, 197), (6.69, 171), (6.71, 158),
            (6.74, 145), (6.76, 39), (6.78, 13), (6.80, 184), (6.82, 158), (6.84, 184), (6.86, 92), (6.88, 79),
            (6.90, 92), (6.92, 53), (6.94, 26), (6.97, 13), (7.00, 13), (7.03, 26), (7.06, 13), (7.10, 13),
            (7.13, 26), (7.16, 13), (7.19, 26), (7.21, 66), (7.23, 118), (7.25, 92), (7.27, 118), (7.29, 118),
            (7.31, 224), (7.33, 197), (7.35, 171), (7.38, 302), (7.40, 184), (7.42, 171), (7.44, 289),
            (7.46, 145), (7.48, 197), (7.50, 171), (7.52, 197), (7.54, 276), (7.56, 289), (7.58, 250),
            (7.60, 224), (7.62, 197), (7.64, 145), (7.66, 105), (7.68, 92), (7.70, 79), (7.73, 39), (7.75, 26),
            (7.77, 39), (7.79, 66), (7.81, 53), (7.83, 66), (7.85, 53), (7.87, 53), (7.89, 26), (7.92, 0),
            (7.94, 13), (7.97, 13), (7.99, 0)]

#############################
# plotting ##################
#############################

fig = plt.figure(figsize=(14.29, 7.95), dpi=100)
ax_top = fig.add_axes([0.0649, 0.5333, 0.8910, 0.4101])
ax_bot = fig.add_axes([0.0665, 0.0528, 0.9048, 0.3988])


def draw_panel(ax, model, meas, veg, sol, sol_color, sol_lw):
    h1, = ax.plot(*zip(*model), color='black', lw=2.3, zorder=3)
    h3, = ax.plot(*zip(*veg), color='#99cc00', lw=2.3, zorder=4)
    h4, = ax.plot(*zip(*sol), color=sol_color, lw=sol_lw, zorder=5)
    h2, = ax.plot(*zip(*meas), ls='none', marker='o', ms=4.3, mfc='none', mec='#ff0000', mew=1.2, zorder=6)
    return [h1, h2, h3, h4]


def style_panel(ax, days, ylim, ystep, bold_ylabel, fs_y, pad_x):
    ax.set_xlim(0, 8)
    ax.set_ylim(*ylim)
    ax.set_xticks(range(9))
    ax.set_xticklabels(days, fontsize=12.5, fontweight='bold')
    ax.set_yticks(range(ylim[0], ylim[1] + 1, ystep))
    ax.tick_params(axis='x', direction='out', length=5, width=1, pad=pad_x)
    ax.tick_params(axis='y', direction='out', length=4, width=1, pad=5, labelsize=fs_y)
    ax.yaxis.grid(True, color='#4d4d4d', lw=1.0)
    ax.set_axisbelow(True)
    for s in ['left', 'bottom']:
        ax.spines[s].set_color('black')
        ax.spines[s].set_linewidth(1.2)
    for s in ['top', 'right']:
        ax.spines[s].set_color('#8c8c8c')
        ax.spines[s].set_linewidth(1.2)
    if bold_ylabel:
        ax.set_ylabel('NH3 fluxes (ng/m²/s)', fontsize=12.5, fontweight='bold')
    else:
        ax.set_ylabel('NH3 fluxes (ng/m²/s)', fontsize=14)


h_top = draw_panel(ax_top, top_model, top_meas, top_veg, top_sol, '#6190f2', 3.2)
style_panel(ax_top, top_days, (-50, 75), 25, True, 12, 8)
ax_top.yaxis.set_label_coords(-0.047, 0.5)

h_bot = draw_panel(ax_bot, bot_model, bot_meas, bot_veg, bot_sol, '#3240ee', 3.8)
style_panel(ax_bot, bot_days, (-500, 2000), 500, False, 14, 12)
ax_bot.spines['top'].set_visible(False)
ax_bot.yaxis.set_label_coords(-0.061, 0.5)

# top of the lower chart is cut off in the original
clip = TransformedBbox(Bbox([[0, 0], [1, 0.4516]]), fig.transFigure)
for lab in ax_bot.get_yticklabels():
    lab.set_clip_on(True)
    lab.set_clip_box(clip)

leg_kw = dict(loc='upper left', frameon=True, fancybox=False, framealpha=1, edgecolor='black',
              numpoints=1, handlelength=3.0, handletextpad=0.2, labelspacing=0.66, borderpad=0.4,
              borderaxespad=0, bbox_transform=fig.transFigure)
leg1 = fig.legend(h_top, series_names, bbox_to_anchor=(0.0399, 0.990), prop={'size': 14.5}, **leg_kw)
leg2 = fig.legend(h_bot, series_names, bbox_to_anchor=(0.6865, 0.4491), prop={'size': 14}, **leg_kw)
for leg in (leg1, leg2):
    leg.get_frame().set_linewidth(1.0)

fig.savefig('out.png', dpi=100)
